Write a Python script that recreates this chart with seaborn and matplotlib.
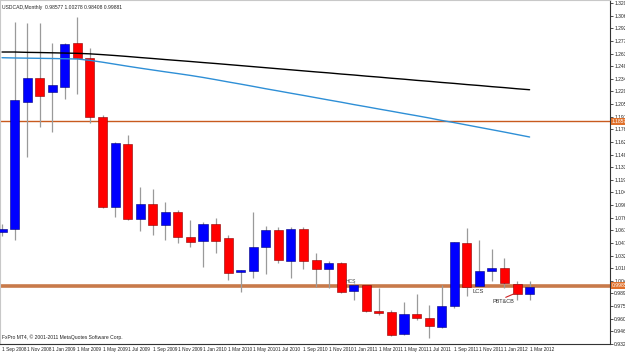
import matplotlib
matplotlib.use('Agg')
import matplotlib.pyplot as plt
import seaborn as sns
import numpy as np
import pandas as pd

# USDCAD monthly candles, Sep 2008 .. Mar 2012
meses = ['Sep 2008', 'Oct 2008', 'Nov 2008', 'Dec 2008', 'Jan 2009', 'Feb 2009', 'Mar 2009',
         'Apr 2009', 'May 2009', 'Jun 2009', 'Jul 2009', 'Aug 2009', 'Sep 2009', 'Oct 2009',
         'Nov 2009', 'Dec 2009', 'Jan 2010', 'Feb 2010', 'Mar 2010', 'Apr 2010', 'May 2010',
         'Jun 2010', 'Jul 2010', 'Aug 2010', 'Sep 2010', 'Oct 2010', 'Nov 2010', 'Dec 2010',
         'Jan 2011', 'Feb 2011', 'Mar 2011', 'Apr 2011', 'May 2011', 'Jun 2011', 'Jul 2011',
         'Aug 2011', 'Sep 2011', 'Oct 2011', 'Nov 2011', 'Dec 2011', 'Jan 2012', 'Feb 2012',
         'Mar 2012']
apertura = [1.0597, 1.0631, 1.2079, 1.2352, 1.2193, 1.2250, 1.2751, 1.2581, 1.1908, 1.0882,
            1.1601, 1.0745, 1.0916, 1.0677, 1.0825, 1.0540, 1.0494, 1.0688, 1.0528, 1.0141,
            1.0152, 1.0426, 1.0620, 1.0266, 1.0631, 1.0278, 1.0175, 1.0243, 0.9924, 0.9993,
            0.9696, 0.9685, 0.9434, 0.9662, 0.9617, 0.9514, 0.9753, 1.0471, 0.9982, 1.0153,
            1.0187, 1.0005, 0.9891]
maximo = [1.0688, 1.2991, 1.2979, 1.2979, 1.2751, 1.2751, 1.3048, 1.2694, 1.1931, 1.1623,
          1.1703, 1.1110, 1.1087, 1.0939, 1.0848, 1.0734, 1.0711, 1.0757, 1.0563, 1.0164,
          1.0825, 1.0665, 1.0654, 1.0654, 1.0654, 1.0358, 1.0266, 1.0255, 1.0015, 0.9993,
          0.9958, 0.9708, 0.9799, 0.9890, 0.9765, 0.9993, 1.0483, 1.0642, 1.0506, 1.0403,
          1.0301, 1.0040, 1.0040]
minimo = [1.0551, 1.0506, 1.1452, 1.1794, 1.1737, 1.2113, 1.2170, 1.1840, 1.0871, 1.0768,
          1.0734, 1.0609, 1.0563, 1.0506, 1.0472, 1.0426, 1.0198, 1.0357, 1.0049, 0.9913,
          1.0078, 1.0118, 1.0243, 1.0078, 1.0175, 0.9970, 0.9958, 0.9902, 0.9822, 0.9685,
          0.9651, 0.9411, 0.9423, 0.9594, 0.9388, 0.9503, 0.9731, 0.9867, 0.9970, 1.0038,
          0.9958, 0.9822, 0.9822]
cierre = [1.0631, 1.2102, 1.2352, 1.2147, 1.2273, 1.2740, 1.2581, 1.1908, 1.0882, 1.1612,
          1.0745, 1.0916, 1.0677, 1.0825, 1.0540, 1.0483, 1.0688, 1.0494, 1.0129, 1.0164,
          1.0426, 1.0620, 1.0278, 1.0631, 1.0266, 1.0175, 1.0243, 0.9913, 0.9993, 0.9696,
          0.9673, 0.9423, 0.9662, 0.9617, 0.9526, 0.9753, 1.0483, 0.9970, 1.0153, 1.0187,
          1.0016, 0.9891, 0.9970]

# moving averages (black = slow, blue = faster)
ma_negra = [1.2649, 1.2649, 1.2645, 1.2643, 1.2640, 1.2637, 1.2634, 1.2628, 1.2619, 1.2609,
            1.2598, 1.2586, 1.2575, 1.2563, 1.2552, 1.2541, 1.2529, 1.2518, 1.2506, 1.2494,
            1.2482, 1.2470, 1.2458, 1.2446, 1.2434, 1.2422, 1.2411, 1.2398, 1.2387, 1.2374,
            1.2363, 1.2350, 1.2339, 1.2326, 1.2315, 1.2302, 1.2291, 1.2278, 1.2267, 1.2254,
            1.2243, 1.2230, 1.2219]
ma_azul = [1.2584, 1.2581, 1.2579, 1.2577, 1.2575, 1.2572, 1.2569, 1.2554, 1.2533, 1.2510,
           1.2487, 1.2465, 1.2444, 1.2423, 1.2403, 1.2382, 1.2359, 1.2334, 1.2308, 1.2283,
           1.2257, 1.2230, 1.2205, 1.2179, 1.2154, 1.2128, 1.2102, 1.2077, 1.2050, 1.2025,
           1.1999, 1.1974, 1.1948, 1.1923, 1.1897, 1.1869, 1.1844, 1.1817, 1.1790, 1.1763,
           1.1736, 1.1708, 1.1680]

# horizontal levels
nivel_alto = 1.1857
nivel_bajo = 0.9985

ticks_precio = [0.9320, 0.9464, 0.9608, 0.9752, 0.9896, 1.0040, 1.0184, 1.0328, 1.0472,
                1.0616, 1.0760, 1.0904, 1.1048, 1.1192, 1.1336, 1.1480, 1.1624, 1.1768,
                1.1912, 1.2056, 1.2200, 1.2344, 1.2488, 1.2632, 1.2776, 1.2920, 1.3064,
                1.3208]
ticks_fecha = ['1 Sep 2008', '1 Nov 2008', '1 Jan 2009', '1 Mar 2009', '1 May 2009', '1 Jul 2009',
               '1 Sep 2009', '1 Nov 2009', '1 Jan 2010', '1 Mar 2010', '1 May 2010', '1 Jul 2010',
               '1 Sep 2010', '1 Nov 2010', '1 Jan 2011', '1 Mar 2011', '1 May 2011', '1 Jul 2011',
               '1 Sep 2011', '1 Nov 2011', '1 Jan 2012', '1 Mar 2012']

df = pd.DataFrame({'mes': meses, 'o': apertura, 'h': maximo, 'l': minimo, 'c': cierre,
                   'ma_negra': ma_negra, 'ma_azul': ma_azul})
df['idx'] = np.arange(len(df))
sube = df['c'] >= df['o']

sns.set_style('white')
plt.rcParams['font.family'] = ['Liberation Sans', 'DejaVu Sans']

fig = plt.figure(figsize=(6.25, 3.53), dpi=100)
ax = fig.add_axes([0.0, 9 / 353, 610 / 625, 344 / 353])

# wicks
ax.vlines(df['idx'], df['l'], df['h'], color='#9a9a9a', linewidth=0.9, zorder=2)
# bodies
colores = np.where(sube, '#0000ff', '#ff0000')
bordes = np.where(sube, '#00007a', '#8a0000')
alto = (df['c'] - df['o']).abs().clip(lower=0.0012)
base = df[['o', 'c']].min(axis=1)
ax.bar(df['idx'], alto, bottom=base, width=0.72, color=colores, edgecolor=bordes,
       linewidth=0.4, zorder=3)

sns.lineplot(x='idx', y='ma_negra', data=df, ax=ax, color='black', linewidth=1.0, zorder=4)
sns.lineplot(x='idx', y='ma_azul', data=df, ax=ax, color='#2e8fd6', linewidth=1.0, zorder=4)

ax.axhline(nivel_alto, color='#c85a1e', linewidth=1.0, zorder=1)
ax.axhline(nivel_bajo, color='#c87a4a', linewidth=2.6, zorder=1)

ax.set_xlim(-0.16, 48.4)
ax.set_ylim(0.9320, 1.3242)

ax.yaxis.tick_right()
ax.set_yticks(ticks_precio)
ax.set_yticklabels([f'{v:.5f}' for v in ticks_precio], fontsize=3.6, color='#222222')
ax.set_xticks(df['idx'][::2])
ax.set_xticklabels(ticks_fecha, fontsize=3.4, color='#222222', ha='left')
ax.tick_params(axis='y', length=2, width=0.6, pad=1)
ax.tick_params(axis='x', length=1.5, width=0.6, pad=0.4)
ax.tick_params(axis='both', colors='#333333', labelcolor='#222222')
ax.set_xlabel('')
ax.set_ylabel('')
for lado in ['top', 'left']:
    ax.spines[lado].set_color('#c8c8c8')
    ax.spines[lado].set_linewidth(0.8)
for lado in ['right', 'bottom']:
    ax.spines[lado].set_color('#333333')
    ax.spines[lado].set_linewidth(0.8)

# price tags on the right axis
for nivel in [nivel_alto, nivel_bajo]:
    ax.text(1.003, nivel, f'{nivel:.5f}', transform=ax.get_yaxis_transform(), fontsize=3.6,
            color='white', va='center', ha='left',
            bbox=dict(boxstyle='square,pad=0.15', facecolor='#e0702a', edgecolor='none'))

# header / footer
ax.text(0.004, 0.985, 'USDCAD,Monthly  0.98577 1.00278 0.98408 0.99881', transform=ax.transAxes,
        fontsize=3.6, color='#222222', va='top', ha='left')
ax.text(0.004, 0.012, 'FxPro MT4, © 2001-2011 MetaQuotes Software Corp.', transform=ax.transAxes,
        fontsize=3.6, color='#222222', va='bottom', ha='left')

# annotations
ax.text(27.8, 1.0005, 'HCS', fontsize=3.6, color='#444444', ha='center', va='bottom')
ax.text(37.9, 0.9924, 'LCS', fontsize=4.2, color='#333333', ha='center', va='center')
ax.text(39.9, 0.9810, 'PBT&CB', fontsize=4.0, color='#333333', ha='center', va='center')
ax.plot([40.1, 40.85], [0.9852, 0.9898], color='#cc2222', linewidth=0.8, zorder=5)

fig.savefig('out.png', dpi=100)
